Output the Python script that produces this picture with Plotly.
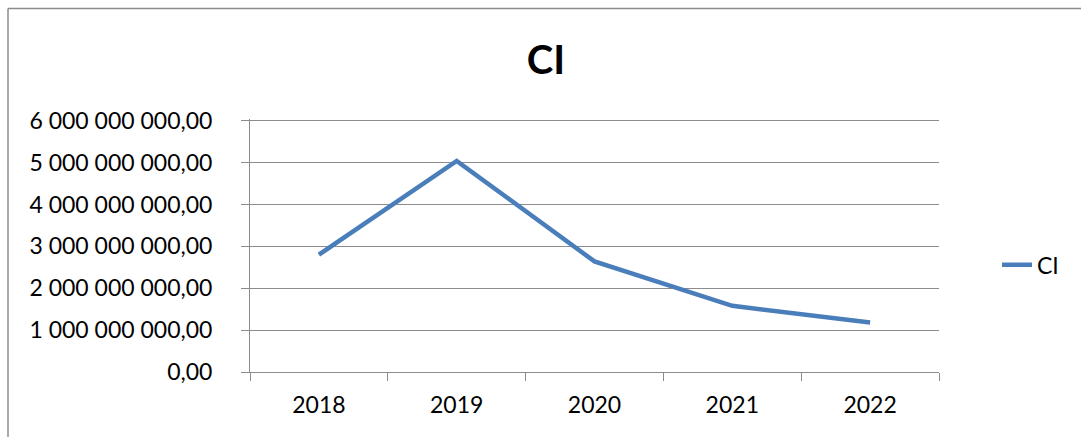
import plotly.graph_objects as go

years = ["2018", "2019", "2020", "2021", "2022"]
ci_values = [2.80e9, 5.04e9, 2.64e9, 1.58e9, 1.18e9]
y_tick_values = [0, 1e9, 2e9, 3e9, 4e9, 5e9, 6e9]
y_tick_labels = ["0,00", "1 000 000 000,00", "2 000 000 000,00", "3 000 000 000,00",
                 "4 000 000 000,00", "5 000 000 000,00", "6 000 000 000,00"]

FONT = "Lato"
GRID = "#8c8c8c"
FS = 23
Y_TOP = 6.04e9
T_MARGIN = 372 - 41.83 * 6.04
PH = 437 - 65 - T_MARGIN

fig = go.Figure()
fig.add_trace(go.Scatter(x=years, y=ci_values, mode="lines", name="CI",
                         line=dict(color="#4a7ebb", width=4.5)))

fig.update_layout(
    width=1081, height=437,
    margin=dict(l=250, r=142, t=T_MARGIN, b=65),
    paper_bgcolor="white", plot_bgcolor="white",
    font=dict(family=FONT, size=FS, color="black"),
    title=dict(text="<b>CI</b>", x=0.505, xanchor="center", y=1 - 60/437, yanchor="middle",
               font=dict(family=FONT, size=40, color="black")),
    showlegend=True,
    legend=dict(x=(997-250)/689, xanchor="left", y=(372-265)/PH, yanchor="middle",
                font=dict(family=FONT, size=FS), bgcolor="rgba(0,0,0,0)"),
    xaxis=dict(type="category", range=[-0.5, 4.5], showgrid=False,
               ticks="outside", tickson="boundaries", ticklen=8, tickcolor=GRID,
               showline=True, linecolor=GRID, linewidth=1, zeroline=False,
               ticklabelstandoff=12,
               tickfont=dict(family=FONT, size=FS)),
    yaxis=dict(range=[0, Y_TOP], tickvals=y_tick_values, ticktext=y_tick_labels,
               showgrid=True, gridcolor=GRID, gridwidth=1,
               ticks="outside", ticklen=8, tickcolor=GRID,
               showline=True, linecolor=GRID, linewidth=1, zeroline=False,
               ticklabelstandoff=24,
               tickfont=dict(family=FONT, size=FS)),
)

# outer chart frame (left and top edges visible)
fig.add_shape(type="line", xref="paper", yref="paper",
              x0=-242/689, x1=-242/689, y0=-65/PH, y1=(372-9)/PH,
              line=dict(color="#8c8c8c", width=1.5))
fig.add_shape(type="line", xref="paper", yref="paper",
              x0=-242/689, x1=(1081-250)/689, y0=(372-9)/PH, y1=(372-9)/PH,
              line=dict(color="#8c8c8c", width=1.5))

fig.write_html("out.html")
